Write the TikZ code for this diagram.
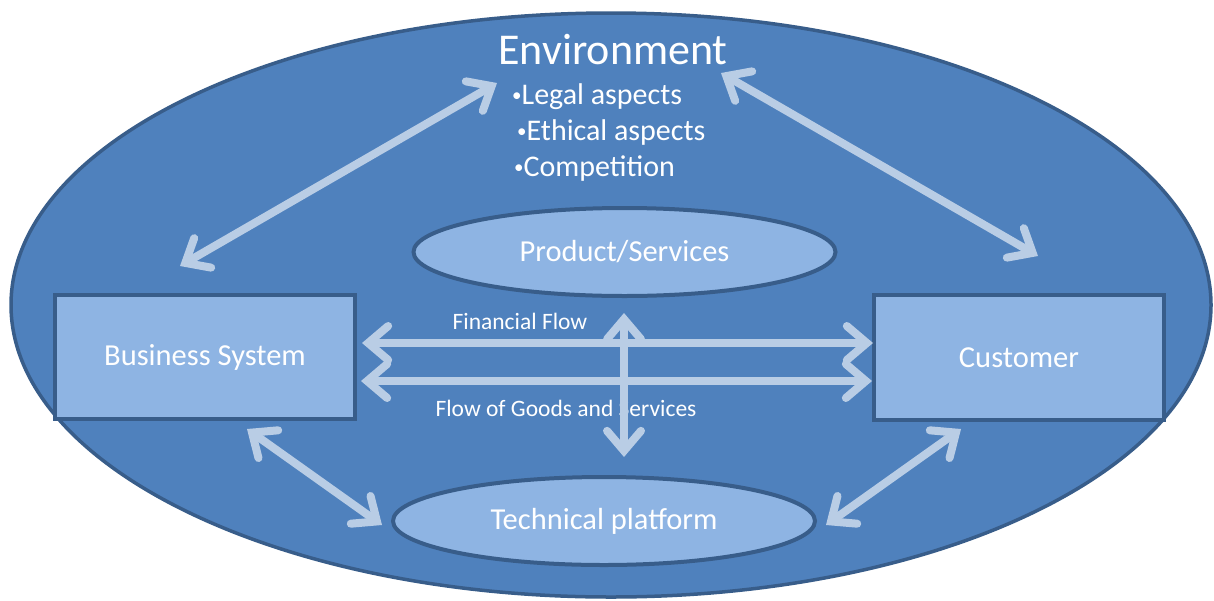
\documentclass[tikz,border=0pt]{standalone}
\usepackage{fontspec}
\setmainfont{Carlito}
\usetikzlibrary{arrows.meta,shapes.geometric}
\definecolor{envfill}{HTML}{4F81BD}
\definecolor{edgec}{HTML}{385D8A}
\definecolor{boxfill}{HTML}{8EB4E3}
\definecolor{arrowc}{HTML}{B9CDE5}
\newcommand{\smallbul}{\raisebox{3pt}{\fontsize{19}{19}\selectfont•}}
\begin{document}
\begin{tikzpicture}[x=1pt,y=-1pt,
  barb/.tip={Straight Barb[length=20pt,width=34pt,line cap=round,line join=miter]},
  flow/.style={draw=arrowc,line width=8pt,barb-barb},
  envshape/.style={ellipse,draw=edgec,line width=3.5pt,fill=envfill,inner sep=0pt},
  innerell/.style={ellipse,draw=edgec,line width=4pt,fill=boxfill,inner sep=0pt,
    text=white,font=\fontsize{30.5}{31}\selectfont},
  boxnode/.style={rectangle,draw=edgec,line width=4pt,fill=boxfill,inner sep=0pt,
    text=white,font=\fontsize{30.5}{31}\selectfont},
  title/.style={text=white,inner sep=0pt,font=\fontsize{44}{45}\selectfont},
  bullet/.style={text=white,inner sep=0pt,anchor=west,font=\fontsize{30}{31}\selectfont},
  flowlabel/.style={text=white,inner sep=0pt,font=\fontsize{23.5}{24}\selectfont}]
\useasboundingbox (0,0) rectangle (1214,600);
% shapes
\node[envshape,minimum width=1200pt,minimum height=584pt] (env) at (611,305) {};
\node[title] (envtitle) at (613,50) {Environment};
\node[bullet] (legal) at (512,97) {\smallbul Legal aspects};
\node[bullet] (ethical) at (517,132) {\smallbul Ethical aspects};
\node[bullet] (comp) at (514,169) {\smallbul Competition};
\node[innerell,minimum width=422pt,minimum height=88pt] (prod) at (624.5,252) {Product/Services};
\node[innerell,minimum width=422pt,minimum height=88pt] (tech) at (604,521) {Technical platform};
\node[boxnode,minimum width=300pt,minimum height=124pt] (bus) at (205,357) {Business System};
\node[boxnode,minimum width=290pt,minimum height=125pt] (cust) at (1019,357.5) {Customer};
\node[flowlabel] (finlabel) at (520,321) {Financial Flow};
\node[flowlabel] (goodslabel) at (566,408) {Flow of Goods and Services};
% connector ends
\coordinate (eb1) at (180,266);
\coordinate (eb2) at (497,83);
\coordinate (ec1) at (721,73);
\coordinate (ec2) at (1038,256);
\coordinate (f1) at (362,343);
\coordinate (f2) at (873,343);
\coordinate (g1) at (361,381);
\coordinate (g2) at (872,381);
\coordinate (v1) at (624,313);
\coordinate (v2) at (624,457);
\coordinate (bt1) at (247,429);
\coordinate (bt2) at (382,525);
\coordinate (ct1) at (961,429);
\coordinate (ct2) at (826,525);
% connectors
\draw[flow] (eb1) -- (eb2);
\draw[flow] (ec1) -- (ec2);
\draw[flow] (f1) -- (f2);
\draw[flow] (g1) -- (g2);
\draw[flow] (v1) -- (v2);
\draw[flow] (bt1) -- (bt2);
\draw[flow] (ct1) -- (ct2);
\end{tikzpicture}
\end{document}
